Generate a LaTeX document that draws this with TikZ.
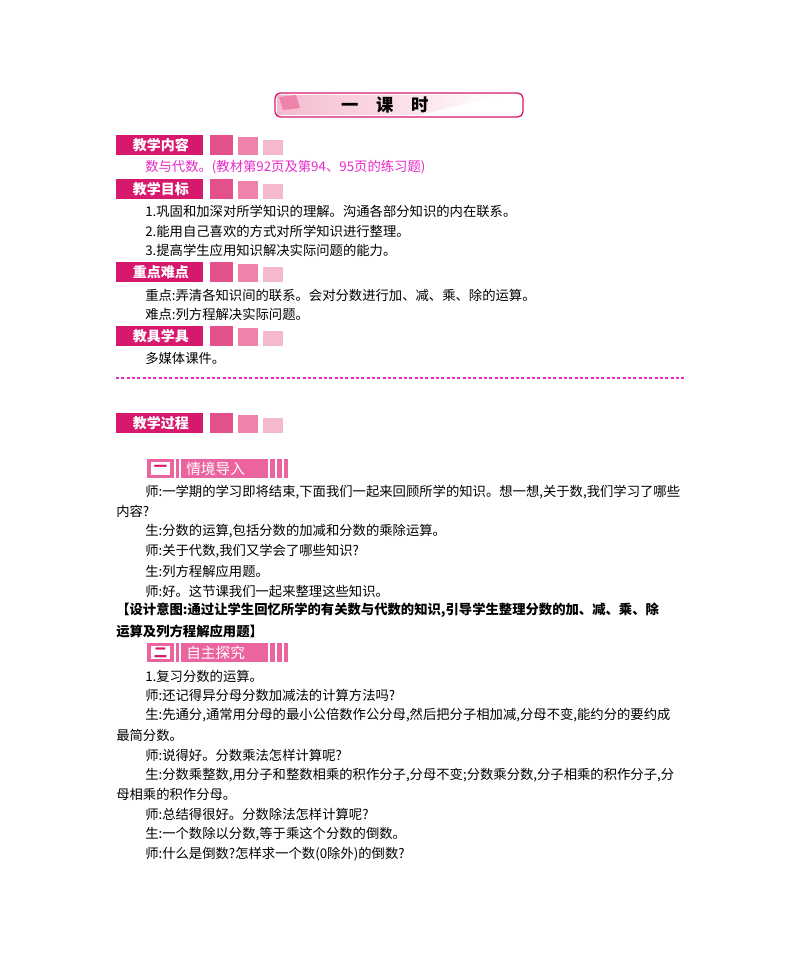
\documentclass[tikz,border=0pt]{standalone}
\usepackage{fontspec}
\setmainfont{Noto Sans CJK SC}
\definecolor{mag}{RGB}{230,40,200}
\definecolor{lab}{RGB}{215,25,110}
\definecolor{sq1}{RGB}{228,80,140}
\definecolor{sq2}{RGB}{238,130,170}
\definecolor{sq3}{RGB}{245,185,205}
\definecolor{ban}{RGB}{235,100,160}
\begin{document}
\begin{tikzpicture}[x=0.75pt,y=-0.75pt,
  t/.style={anchor=west,inner sep=0pt,font=\fontsize{10pt}{12pt}\selectfont},
  lbl/.style={fill=lab,text=white,anchor=west,minimum height=15pt,minimum width=65pt,inner sep=0pt,font=\fontsize{10.5pt}{12pt}\selectfont\bfseries}]
\useasboundingbox (0,0) rectangle (800,977);
% header banner
\draw[lab,line width=1pt,rounded corners=4pt,fill=white] (275,93) rectangle (523,117);
\shade[left color=sq3,right color=white] (277,95) -- (500,95) -- (420,115) -- (277,115) -- cycle;
\fill[sq2] (279,97) -- (296,95) -- (300,108) -- (283,110) -- cycle;
\node (hd) at (385,105) {\fontsize{13pt}{14pt}\selectfont\bfseries 一\quad 课\quad 时};
\newcommand\seclabel[3]{%
  \node[lbl] (#3) at (116,#1) {\,#2};
  \fill[sq1] (210,#1-10) rectangle (233,#1+10);
  \fill[sq2] (238,#1-8) rectangle (258,#1+10);
  \fill[sq3] (263,#1-5) rectangle (283,#1+10);}
\seclabel{145}{教学内容}{l1}
\node[t,text=mag] (a1) at (145,167) {数与代数。(教材第92页及第94、95页的练习题)};
\seclabel{189}{教学目标}{l2}
\node[t] (b1) at (145,211) {1.巩固和加深对所学知识的理解。沟通各部分知识的内在联系。};
\node[t] (b2) at (145,231) {2.能用自己喜欢的方式对所学知识进行整理。};
\node[t] (b3) at (145,250) {3.提高学生应用知识解决实际问题的能力。};
\seclabel{272}{重点难点}{l3}
\node[t] (c1) at (145,295) {重点:弄清各知识间的联系。会对分数进行加、减、乘、除的运算。};
\node[t] (c2) at (145,314) {难点:列方程解决实际问题。};
\seclabel{336}{教具学具}{l4}
\node[t] (d1) at (145,358) {多媒体课件。};
\draw[mag,line width=2.2pt,dash pattern=on 2.2pt off 1.8pt] (116,378) -- (686,378);
\seclabel{423}{教学过程}{l5}
\fill[ban] (147,459) rectangle (288,478);
\fill[white] (151,462) rectangle (170,475);
\node[text=lab,font=\bfseries] (n1) at (160.5,468.5) {一};
\foreach \xx in {175,180,269,276,283} \draw[white,line width=1pt] (\xx,459) -- (\xx,478);
\node[t,text=white,font=\fontsize{11pt}{12pt}\selectfont] (s1) at (186,468.5) {情境导入};
\node[t] (e1) at (145,492) {师:一学期的学习即将结束,下面我们一起来回顾所学的知识。想一想,关于数,我们学习了哪些};
\node[t] (e2) at (116,511) {内容?};
\node[t] (e3) at (145,531) {生:分数的运算,包括分数的加减和分数的乘除运算。};
\node[t] (e4) at (145,551) {师:关于代数,我们又学会了哪些知识?};
\node[t] (e5) at (145,571) {生:列方程解应用题。};
\node[t] (e6) at (145,591) {师:好。这节课我们一起来整理这些知识。};
\node[t,font=\fontsize{10pt}{12pt}\selectfont\bfseries] (e7) at (116,610) {【设计意图:通过让学生回忆所学的有关数与代数的知识,引导学生整理分数的加、减、乘、除};
\node[t,font=\fontsize{10pt}{12pt}\selectfont\bfseries] (e8) at (116,631) {运算及列方程解应用题】};
\fill[ban] (147,643) rectangle (288,662);
\fill[white] (151,646) rectangle (170,659);
\node[text=lab,font=\bfseries] (n2) at (160.5,652.5) {二};
\foreach \xx in {175,180,269,276,283} \draw[white,line width=1pt] (\xx,643) -- (\xx,662);
\node[t,text=white,font=\fontsize{11pt}{12pt}\selectfont] (s2) at (186,652.5) {自主探究};
\node[t] (f1) at (145,676) {1.复习分数的运算。};
\node[t] (f2) at (145,695) {师:还记得异分母分数加减法的计算方法吗?};
\node[t] (f3) at (145,715) {生:先通分,通常用分母的最小公倍数作公分母,然后把分子相加减,分母不变,能约分的要约成};
\node[t] (f4) at (116,735) {最简分数。};
\node[t] (f5) at (145,755) {师:说得好。分数乘法怎样计算呢?};
\node[t] (f6) at (145,775) {生:分数乘整数,用分子和整数相乘的积作分子,分母不变;分数乘分数,分子相乘的积作分子,分};
\node[t] (f7) at (116,794) {母相乘的积作分母。};
\node[t] (f8) at (145,814) {师:总结得很好。分数除法怎样计算呢?};
\node[t] (f9) at (145,834) {生:一个数除以分数,等于乘这个分数的倒数。};
\node[t] (f10) at (145,854) {师:什么是倒数?怎样求一个数(0除外)的倒数?};
\end{tikzpicture}
\end{document}
